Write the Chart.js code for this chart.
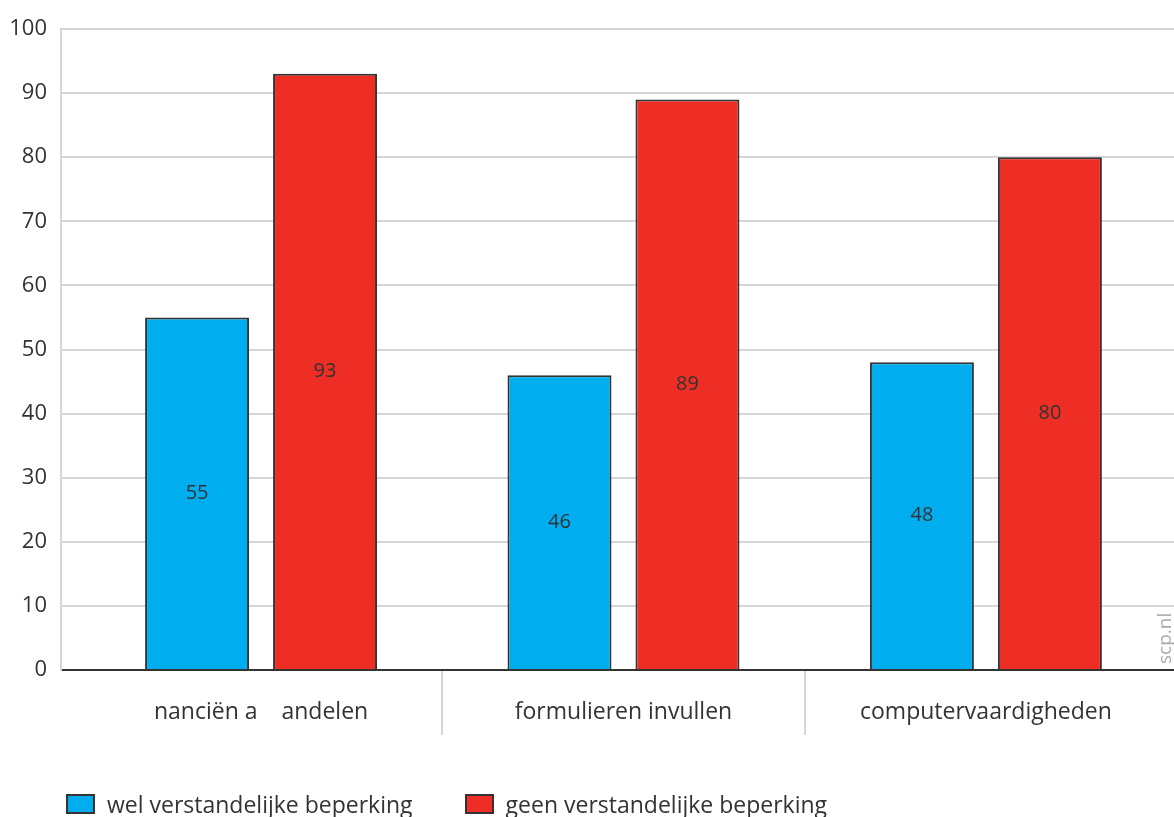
<!DOCTYPE html>
<html>
<head>
<meta charset="utf-8">
<script src="https://cdn.jsdelivr.net/npm/chart.js@4/dist/chart.umd.min.js"></script>
<style>
  html, body { margin: 0; padding: 0; background: #fff; }
  #wrap { position: relative; width: 1174px; height: 817px; }
  #legend { position: absolute; left: 66px; top: 791px; display: flex; gap: 52px;
            font: 23px 'Open Sans', sans-serif; color: #333; line-height: 26px; }
  .item { display: flex; align-items: center; }
  .box { width: 25px; height: 16px; border: 2px solid #333; margin-right: 12px; }
</style>
</head>
<body>
<div id="wrap">
  <canvas id="chart"></canvas>
  <div id="legend"></div>
</div>
<script>
// data
const categories = ['nanciën a    andelen', 'formulieren invullen', 'computervaardigheden'];
const seriesNames = ['wel verstandelijke beperking', 'geen verstandelijke beperking'];
const welValues = [55, 46, 48];
const geenValues = [93, 89, 80];
const seriesColors = ['#00aeef', '#ee2e24'];
// label positions (integers) and dividers between groups (halves)
const xTickValues = [0, 0.5, 1, 1.5, 2];

const FONT = "'Open Sans', sans-serif";
const TEXT = '#333';
const GRID = '#d6d6d6';

// value labels in the middle of each bar
const barValueLabels = {
    id: 'barValueLabels',
    afterDatasetsDraw(chart) {
        const ctx = chart.ctx;
        ctx.save();
        ctx.font = '20px ' + FONT;
        ctx.fillStyle = TEXT;
        ctx.textAlign = 'center';
        ctx.textBaseline = 'middle';
        chart.data.datasets.forEach((ds, i) => {
            chart.getDatasetMeta(i).data.forEach((bar, j) => {
                const { x, y, base } = bar.getProps(['x', 'y', 'base'], true);
                ctx.fillText(ds.data[j].y, x, (y + base) / 2);
            });
        });
        ctx.restore();
    }
};

// small vertical source credit
const sourceCredit = {
    id: 'sourceCredit',
    afterDraw(chart) {
        const { ctx, chartArea } = chart;
        ctx.save();
        ctx.translate(chartArea.right - 3, chartArea.bottom - 6);
        ctx.rotate(-Math.PI / 2);
        ctx.font = '19px ' + FONT;
        ctx.fillStyle = '#aaa';
        ctx.textAlign = 'left';
        ctx.textBaseline = 'alphabetic';
        ctx.fillText('scp.nl', 0, 0);
        ctx.restore();
    }
};

const ctx = document.getElementById('chart').getContext('2d');
const chart = new Chart(ctx, {
    type: 'bar',
    data: {
        datasets: [
            {
                label: seriesNames[0],
                data: welValues.map((v, i) => ({ x: i, y: v })),
                backgroundColor: seriesColors[0],
                borderColor: '#333',
                borderWidth: 2
            },
            {
                label: seriesNames[1],
                data: geenValues.map((v, i) => ({ x: i, y: v })),
                backgroundColor: seriesColors[1],
                borderColor: '#333',
                borderWidth: 2
            }
        ]
    },
    options: {
        responsive: true, maintainAspectRatio: false,
        animation: false,
        // ruler spacing is the half-step between ticks, hence > 1
        categoryPercentage: 1.4125,
        barPercentage: 0.8125,
        layout: { padding: { top: 29, right: 0, bottom: 77, left: 0 } },
        plugins: { legend: { display: false }, tooltip: { enabled: false } },
        scales: {
            x: {
                type: 'linear',
                min: -0.552, max: 2.519,
                offset: false,
                afterBuildTicks: (s) => { s.ticks = xTickValues.map(v => ({ value: v })); },
                afterFit: (s) => { s.height = 70; },
                ticks: {
                    autoSkip: false, maxRotation: 0, padding: -36,
                    color: TEXT, font: { family: FONT, size: 23 },
                    callback: (v) => Number.isInteger(v) ? categories[v] : ''
                },
                grid: {
                    offset: false, drawOnChartArea: false, drawTicks: true, tickLength: 65,
                    lineWidth: 2,
                    color: (c) => (c.tick && Number.isInteger(c.tick.value)) ? 'rgba(0,0,0,0)' : GRID
                },
                border: { color: TEXT, width: 2 }
            },
            y: {
                min: 0, max: 100,
                afterFit: (s) => { s.width = 61; },
                ticks: { stepSize: 10, padding: 14, color: TEXT, font: { family: FONT, size: 22 } },
                grid: { color: GRID, lineWidth: 2, drawTicks: false },
                border: { color: GRID, width: 2 }
            }
        }
    },
    plugins: [barValueLabels, sourceCredit]
});

// legend as html under the chart
const legend = document.getElementById('legend');
seriesNames.forEach((name, i) => {
    const item = document.createElement('div');
    item.className = 'item';
    const box = document.createElement('span');
    box.className = 'box';
    box.style.background = seriesColors[i];
    const label = document.createElement('span');
    label.textContent = name;
    item.appendChild(box);
    item.appendChild(label);
    legend.appendChild(item);
});
</script>
</body>
</html>
